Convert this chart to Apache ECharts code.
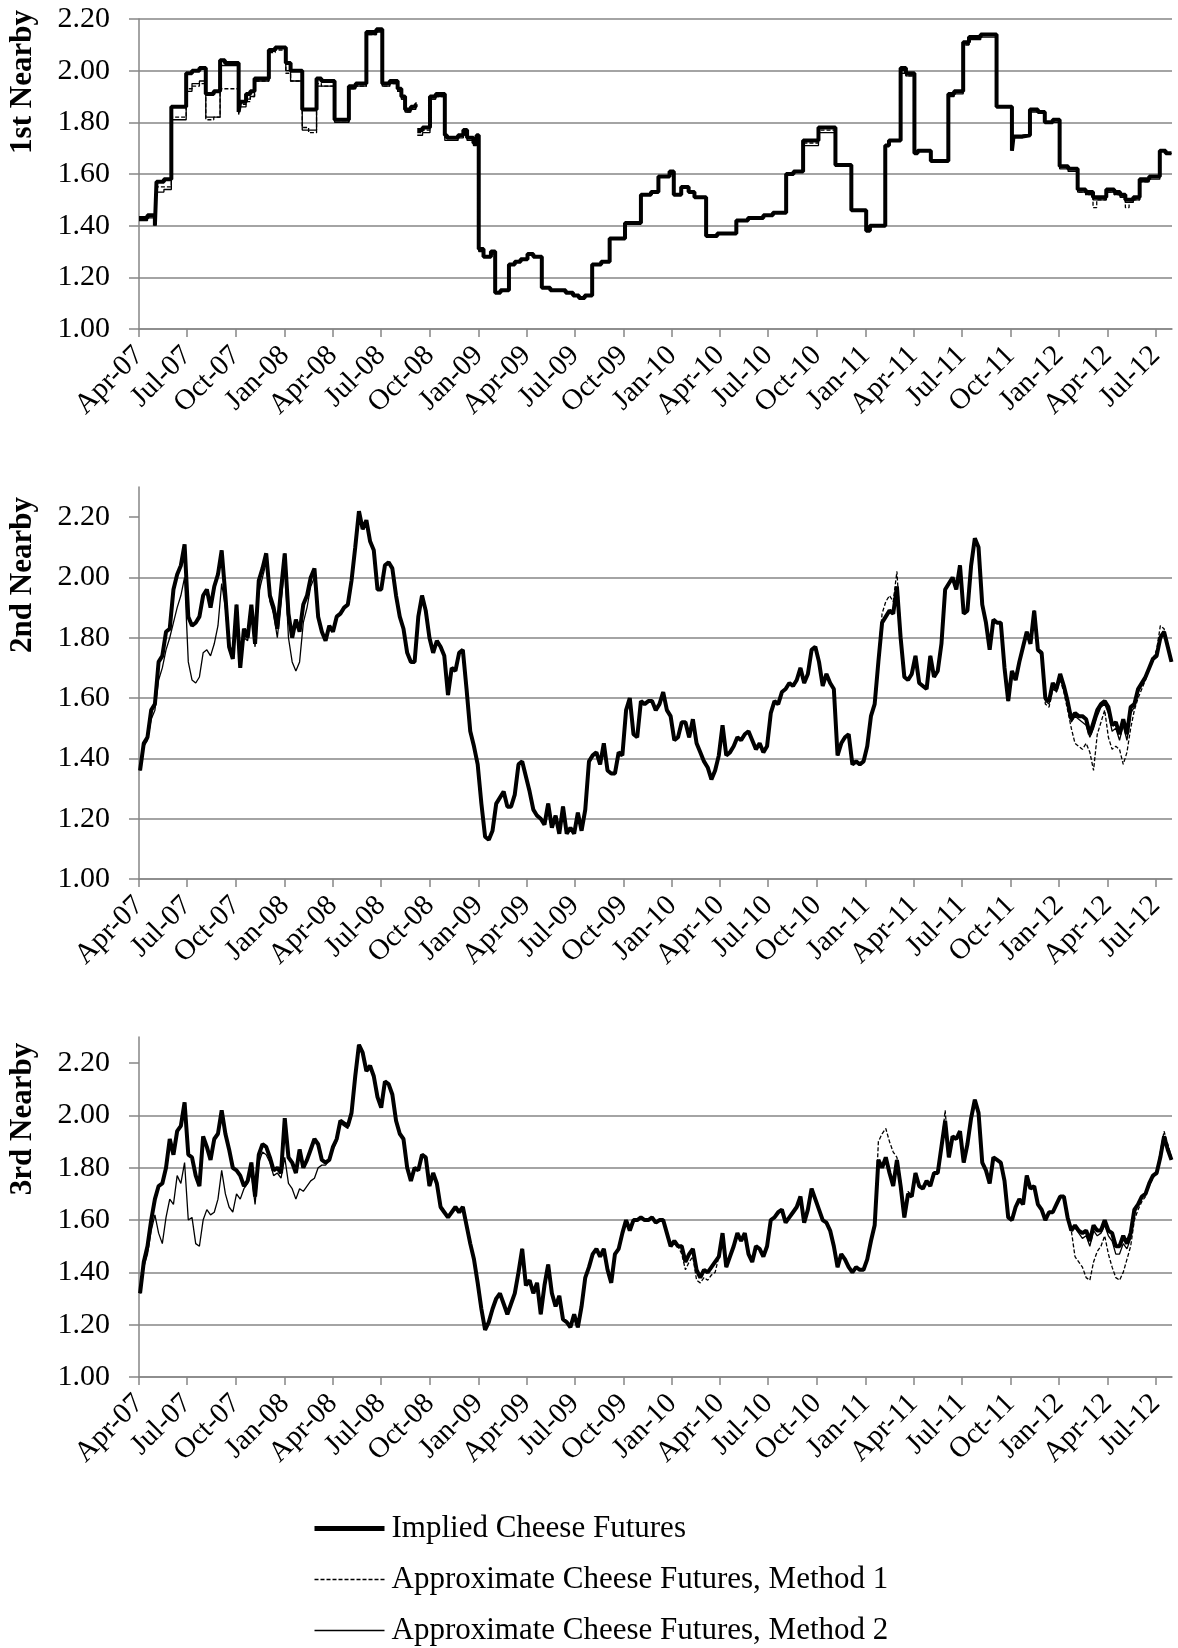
<!DOCTYPE html>
<html><head><meta charset="utf-8">
<script src="https://cdn.jsdelivr.net/npm/echarts/dist/echarts.min.js"></script>
<style>html,body{margin:0;padding:0;background:#fff}#c{width:1178px;height:1648px}</style>
</head><body><div id="c"></div>
<script>
const seriesNames = ['Implied Cheese Futures','Approximate Cheese Futures, Method 1','Approximate Cheese Futures, Method 2'];
const panelTitles = ['1st Nearby','2nd Nearby','3rd Nearby'];
const tickDates = ['2007-04-01','2007-07-01','2007-10-01','2008-01-01','2008-04-01','2008-07-01','2008-10-01','2009-01-01','2009-04-01','2009-07-01','2009-10-01','2010-01-01','2010-04-01','2010-07-01','2010-10-01','2011-01-01','2011-04-01','2011-07-01','2011-10-01','2012-01-01','2012-04-01','2012-07-01'];
const tickLabels = ['Apr-07','Jul-07','Oct-07','Jan-08','Apr-08','Jul-08','Oct-08','Jan-09','Apr-09','Jul-09','Oct-09','Jan-10','Apr-10','Jul-10','Oct-10','Jan-11','Apr-11','Jul-11','Oct-11','Jan-12','Apr-12','Jul-12'];
const yTicks = [1.0,1.2,1.4,1.6,1.8,2.0,2.2];

// ---- Panel 1 (1st nearby): step changes ----
const p1Dates = ['2007-04-01','2007-04-17','2007-05-01','2007-05-04','2007-05-18','2007-06-01','2007-06-29','2007-07-10','2007-07-24','2007-08-05',
'2007-08-20','2007-09-01','2007-09-10','2007-10-06','2007-10-09','2007-10-20','2007-10-28','2007-11-05','2007-12-02','2007-12-14',
'2008-01-03','2008-01-12','2008-02-03','2008-02-15','2008-03-01','2008-03-10','2008-04-04','2008-05-01','2008-05-14','2008-06-03',
'2008-06-22','2008-07-03','2008-07-17','2008-08-01','2008-08-08','2008-08-15','2008-08-26','2008-09-04','2008-09-06','2008-09-07',
'2008-09-17','2008-10-01','2008-10-12','2008-10-29','2008-11-02','2008-11-23','2008-12-03','2008-12-10','2008-12-22','2008-12-28',
'2009-01-01','2009-01-10','2009-01-24','2009-02-01','2009-02-11','2009-02-27','2009-03-10','2009-03-21','2009-04-03','2009-04-14',
'2009-04-30','2009-05-16','2009-06-14','2009-06-28','2009-07-09','2009-07-20','2009-08-03','2009-08-20','2009-09-05','2009-10-04',
'2009-11-03','2009-11-22','2009-12-06','2009-12-27','2010-01-04','2010-01-18','2010-02-01','2010-02-12','2010-03-06','2010-03-27',
'2010-05-02','2010-05-24','2010-06-22','2010-07-10','2010-08-04','2010-08-18','2010-09-05','2010-10-04','2010-11-05','2010-12-05',
'2011-01-02','2011-01-09','2011-02-07','2011-02-14','2011-03-08','2011-03-18','2011-04-03','2011-04-09','2011-05-04','2011-06-06',
'2011-06-17','2011-07-04','2011-07-15','2011-08-06','2011-09-05','2011-10-04','2011-10-07','2011-10-24','2011-11-07','2011-11-22',
'2011-12-05','2011-12-20','2012-01-02','2012-01-18','2012-02-05','2012-02-20','2012-03-05','2012-03-12','2012-03-30','2012-04-14',
'2012-04-25','2012-05-05','2012-05-12','2012-05-20','2012-06-01','2012-06-19','2012-07-09','2012-07-20','2012-07-31'];
const p1Implied = [1.43,1.44,1.40,1.57,1.58,1.86,1.99,2.00,2.01,1.91,
1.92,2.04,2.03,1.84,1.88,1.91,1.92,1.97,2.08,2.09,
2.03,2.00,1.85,1.85,1.97,1.96,1.81,1.94,1.95,2.15,
2.16,1.95,1.96,1.93,1.90,1.85,1.86,1.87,null,1.77,
1.78,1.90,1.91,1.75,1.74,1.75,1.77,1.74,1.72,1.75,
1.31,1.28,1.30,1.14,1.15,1.25,1.26,1.27,1.29,1.28,
1.16,1.15,1.14,1.13,1.12,1.13,1.25,1.26,1.35,1.41,
1.52,1.53,1.59,1.61,1.52,1.55,1.53,1.51,1.36,1.37,
1.42,1.43,1.44,1.45,1.60,1.61,1.73,1.78,1.635,1.46,
1.38,1.40,1.71,1.73,2.01,1.99,1.68,1.69,1.65,1.91,
1.92,2.11,2.13,2.14,1.86,1.69,1.745,1.75,1.85,1.84,
1.80,1.81,1.63,1.62,1.54,1.53,1.51,1.51,1.54,1.53,
1.52,1.50,1.50,1.51,1.58,1.59,1.69,1.68,1.68];
const p1Method1 = [1.43,1.44,1.40,1.55,1.55,1.82,1.93,1.94,1.95,1.81,
1.82,1.93,1.93,1.84,1.87,1.88,1.90,1.96,2.07,2.08,
1.99,1.96,1.78,1.76,1.95,1.94,1.80,1.93,1.94,2.14,
2.15,1.94,1.95,1.92,1.89,1.84,1.85,1.86,null,1.76,
1.77,1.89,1.90,1.74,1.74,1.75,1.76,1.74,1.72,1.75,
1.31,1.28,1.30,1.14,1.15,1.25,1.26,1.27,1.29,1.28,
1.16,1.15,1.14,1.13,1.12,1.13,1.25,1.26,1.35,1.41,
1.52,1.53,1.59,1.60,1.52,1.55,1.53,1.51,1.36,1.37,
1.42,1.43,1.44,1.45,1.60,1.61,1.72,1.77,1.63,1.46,
1.38,1.40,1.71,1.73,2.00,1.98,1.68,1.69,1.65,1.91,
1.92,2.10,2.13,2.14,1.86,1.69,1.745,1.75,1.85,1.84,
1.80,1.81,1.63,1.62,1.53,1.52,1.47,1.50,1.53,1.52,
1.51,1.47,1.49,1.50,1.57,1.59,1.69,1.68,1.68];
const p1Method2 = [1.42,1.43,1.40,1.53,1.54,1.81,1.92,1.95,1.96,1.82,
1.82,2.02,2.02,1.83,1.86,1.89,1.90,1.96,2.08,2.09,
2.00,1.96,1.77,1.77,1.94,1.94,1.80,1.93,1.94,2.14,
2.15,1.94,1.95,1.92,1.89,1.84,1.85,1.86,null,1.75,
1.76,1.89,1.90,1.73,1.73,1.74,1.76,1.73,1.71,1.74,
1.30,1.28,1.29,1.14,1.15,1.25,1.26,1.27,1.29,1.28,
1.16,1.15,1.14,1.13,1.12,1.13,1.25,1.26,1.35,1.41,
1.52,1.53,1.59,1.60,1.52,1.55,1.53,1.51,1.36,1.37,
1.42,1.43,1.44,1.45,1.60,1.61,1.71,1.76,1.63,1.46,
1.38,1.40,1.71,1.73,1.99,1.98,1.68,1.69,1.65,1.90,
1.91,2.10,2.12,2.13,1.86,1.69,1.74,1.75,1.84,1.84,
1.80,1.80,1.62,1.61,1.53,1.52,1.50,1.50,1.53,1.52,
1.51,1.49,1.49,1.50,1.57,1.58,1.69,1.68,1.68];

// ---- Panels 2 and 3: weekly readings ----
const weeklyDates = ['2007-04-03','2007-04-10','2007-04-17','2007-04-24','2007-05-01','2007-05-08','2007-05-15','2007-05-22','2007-05-29','2007-06-05','2007-06-12','2007-06-19','2007-06-26','2007-07-03','2007-07-10','2007-07-17','2007-07-24','2007-07-31','2007-08-07','2007-08-14','2007-08-21','2007-08-28','2007-09-04','2007-09-11','2007-09-18','2007-09-25','2007-10-02','2007-10-09','2007-10-16','2007-10-23','2007-10-30','2007-11-06','2007-11-13','2007-11-20','2007-11-27','2007-12-04','2007-12-11','2007-12-18','2007-12-25',
'2008-01-01','2008-01-08','2008-01-15','2008-01-22','2008-01-29','2008-02-05','2008-02-12','2008-02-19','2008-02-26','2008-03-04','2008-03-11','2008-03-18','2008-03-25','2008-04-01','2008-04-08','2008-04-15','2008-04-22','2008-04-29','2008-05-06','2008-05-13','2008-05-20','2008-05-27','2008-06-03','2008-06-10','2008-06-17','2008-06-24','2008-07-01','2008-07-08','2008-07-15','2008-07-22','2008-07-29','2008-08-05','2008-08-12','2008-08-19','2008-08-26','2008-09-02','2008-09-09','2008-09-16','2008-09-23','2008-09-30','2008-10-07','2008-10-14','2008-10-21','2008-10-28','2008-11-04','2008-11-11','2008-11-18','2008-11-25','2008-12-02','2008-12-09','2008-12-16','2008-12-23','2008-12-30',
'2009-01-06','2009-01-13','2009-01-20','2009-01-27','2009-02-03','2009-02-10','2009-02-17','2009-02-24','2009-03-03','2009-03-10','2009-03-17','2009-03-24','2009-03-31','2009-04-07','2009-04-14','2009-04-21','2009-04-28','2009-05-05','2009-05-12','2009-05-19','2009-05-26','2009-06-02','2009-06-09','2009-06-16','2009-06-23','2009-06-30','2009-07-07','2009-07-14','2009-07-21','2009-07-28','2009-08-04','2009-08-11','2009-08-18','2009-08-25','2009-09-01','2009-09-08','2009-09-15','2009-09-22','2009-09-29','2009-10-06','2009-10-13','2009-10-20','2009-10-27','2009-11-03','2009-11-10','2009-11-17','2009-11-24','2009-12-01','2009-12-08','2009-12-15','2009-12-22','2009-12-29',
'2010-01-05','2010-01-12','2010-01-19','2010-01-26','2010-02-02','2010-02-09','2010-02-16','2010-02-23','2010-03-02','2010-03-09','2010-03-16','2010-03-23','2010-03-30','2010-04-06','2010-04-13','2010-04-20','2010-04-27','2010-05-04','2010-05-11','2010-05-18','2010-05-25','2010-06-01','2010-06-08','2010-06-15','2010-06-22','2010-06-29','2010-07-06','2010-07-13','2010-07-20','2010-07-27','2010-08-03','2010-08-10','2010-08-17','2010-08-24','2010-08-31','2010-09-07','2010-09-14','2010-09-21','2010-09-28','2010-10-05','2010-10-12','2010-10-19','2010-10-26','2010-11-02','2010-11-09','2010-11-16','2010-11-23','2010-11-30','2010-12-07','2010-12-14','2010-12-21','2010-12-28',
'2011-01-04','2011-01-11','2011-01-18','2011-01-25','2011-02-01','2011-02-08','2011-02-15','2011-02-22','2011-03-01','2011-03-08','2011-03-15','2011-03-22','2011-03-29','2011-04-05','2011-04-12','2011-04-19','2011-04-26','2011-05-03','2011-05-10','2011-05-17','2011-05-24','2011-05-31','2011-06-07','2011-06-14','2011-06-21','2011-06-28','2011-07-05','2011-07-12','2011-07-19','2011-07-26','2011-08-02','2011-08-09','2011-08-16','2011-08-23','2011-08-30','2011-09-06','2011-09-13','2011-09-20','2011-09-27','2011-10-04','2011-10-11','2011-10-18','2011-10-25','2011-11-01','2011-11-08','2011-11-15','2011-11-22','2011-11-29','2011-12-06','2011-12-13','2011-12-20','2011-12-27',
'2012-01-03','2012-01-10','2012-01-17','2012-01-24','2012-01-31','2012-02-07','2012-02-14','2012-02-21','2012-02-28','2012-03-06','2012-03-13','2012-03-20','2012-03-27','2012-04-03','2012-04-10','2012-04-17','2012-04-24','2012-05-01','2012-05-08','2012-05-15','2012-05-22','2012-05-29','2012-06-05','2012-06-12','2012-06-19','2012-06-26','2012-07-03','2012-07-10','2012-07-17','2012-07-24','2012-07-31'];

const p2Implied = [1.36,1.45,1.47,1.56,1.58,
1.72,1.74,1.82,1.83,1.96,2.01,2.04,2.11,1.87,
1.84,1.85,1.87,1.94,1.96,1.90,1.97,2.01,2.09,
1.94,1.77,1.73,1.91,1.70,1.83,1.80,1.91,
1.78,1.99,2.03,2.08,1.94,1.90,1.83,1.96,2.08,
1.88,1.80,1.86,1.82,1.91,1.94,2.00,2.03,1.87,
1.82,1.79,1.84,1.82,1.87,1.88,1.90,1.91,1.99,
2.10,2.22,2.16,2.19,2.12,2.09,1.96,1.96,2.04,
2.05,2.03,1.94,1.87,1.83,1.75,1.72,1.72,
1.87,1.94,1.89,1.80,1.75,1.79,1.77,1.74,1.61,
1.70,1.69,1.75,1.76,1.63,1.49,1.44,1.38,1.25,
1.14,1.13,1.16,1.25,1.27,1.29,1.24,1.24,1.28,
1.38,1.39,1.34,1.29,1.23,1.21,1.20,1.18,1.25,
1.17,1.21,1.15,1.24,1.15,1.17,1.15,1.22,1.16,
1.23,1.39,1.41,1.42,1.38,1.45,1.36,1.35,
1.35,1.42,1.41,1.56,1.60,1.48,1.47,1.59,1.58,
1.59,1.59,1.56,1.58,1.62,1.56,1.54,1.46,1.47,
1.52,1.52,1.47,1.53,1.45,1.42,1.39,1.37,1.33,
1.36,1.41,1.51,1.41,1.42,1.44,1.47,1.46,1.48,
1.49,1.46,1.43,1.45,1.42,1.44,1.55,1.59,
1.58,1.62,1.63,1.65,1.64,1.66,1.70,1.65,1.68,
1.76,1.77,1.72,1.64,1.68,1.65,1.63,1.41,1.45,
1.47,1.48,1.38,1.39,1.38,1.39,1.44,1.54,1.58,
1.72,1.85,1.87,1.89,1.88,1.97,1.80,1.67,1.66,
1.68,1.74,1.65,1.64,1.63,1.74,1.67,1.69,1.78,
1.96,1.98,2.00,1.96,2.04,1.88,1.89,2.04,
2.13,2.10,1.91,1.85,1.76,1.86,1.85,1.85,1.70,
1.59,1.69,1.66,1.72,1.77,1.82,1.78,1.89,1.76,
1.75,1.60,1.59,1.65,1.63,1.68,1.64,1.59,1.53,
1.55,1.54,1.54,1.53,1.48,1.52,1.56,1.58,1.59,
1.57,1.51,1.52,1.48,1.53,1.48,1.57,1.58,
1.63,1.65,1.67,1.70,1.73,1.74,1.80,1.82,1.77,1.72];
const p2Method1 = [1.36,1.45,1.47,1.56,1.58,
1.72,1.74,1.82,1.83,1.96,2.01,2.04,2.11,1.87,
1.84,1.85,1.87,1.94,1.96,1.90,1.97,2.01,2.09,
1.94,1.77,1.73,1.91,1.70,1.83,1.80,1.91,
1.78,1.99,2.03,2.08,1.94,1.90,1.83,1.96,2.08,
1.88,1.80,1.86,1.82,1.91,1.94,2.00,2.03,1.87,
1.82,1.79,1.84,1.82,1.87,1.88,1.90,1.91,1.99,
2.10,2.22,2.16,2.19,2.12,2.09,1.96,1.96,2.04,
2.05,2.03,1.94,1.87,1.83,1.75,1.72,1.72,
1.87,1.94,1.89,1.80,1.75,1.79,1.77,1.74,1.61,
1.70,1.69,1.75,1.76,1.63,1.49,1.44,1.38,1.25,
1.14,1.13,1.16,1.25,1.27,1.29,1.24,1.24,1.28,
1.38,1.39,1.34,1.29,1.23,1.21,1.20,1.18,1.25,
1.17,1.21,1.15,1.24,1.15,1.17,1.15,1.22,1.16,
1.23,1.39,1.41,1.42,1.38,1.45,1.36,1.35,
1.35,1.42,1.41,1.56,1.60,1.48,1.47,1.59,1.58,
1.59,1.59,1.56,1.58,1.62,1.56,1.54,1.46,1.47,
1.52,1.52,1.47,1.53,1.45,1.42,1.39,1.37,1.33,
1.36,1.41,1.51,1.41,1.42,1.44,1.47,1.46,1.48,
1.49,1.46,1.43,1.45,1.42,1.44,1.55,1.59,
1.58,1.62,1.63,1.65,1.64,1.66,1.70,1.65,1.68,
1.76,1.77,1.72,1.64,1.68,1.65,1.63,1.41,1.45,
1.47,1.48,1.38,1.39,1.38,1.39,1.44,1.54,1.58,
1.74,1.88,1.92,1.94,1.92,2.02,1.82,1.67,1.66,
1.68,1.74,1.65,1.64,1.63,1.74,1.67,1.69,1.78,
1.96,1.98,2.00,1.96,2.04,1.88,1.89,2.04,
2.13,2.10,1.91,1.85,1.76,1.86,1.85,1.85,1.70,
1.59,1.69,1.66,1.72,1.77,1.82,1.78,1.89,1.76,
1.74,1.58,1.57,1.63,1.62,1.66,1.62,1.56,1.50,
1.45,1.44,1.43,1.45,1.42,1.36,1.48,1.52,1.56,
1.47,1.43,1.44,1.43,1.38,1.42,1.50,1.56,
1.60,1.63,1.66,1.70,1.73,1.76,1.84,1.83,1.77,1.72];
const p2Method2 = [1.36,1.44,1.46,1.53,1.56,
1.66,1.70,1.76,1.80,1.85,1.90,1.94,2.00,1.72,
1.66,1.65,1.67,1.75,1.76,1.74,1.78,1.84,1.98,
1.90,1.76,1.73,1.85,1.71,1.80,1.79,1.88,
1.77,1.95,2.00,2.05,1.92,1.88,1.80,1.92,2.04,
1.80,1.72,1.69,1.72,1.85,1.90,1.97,2.00,1.86,
1.82,1.79,1.84,1.82,1.87,1.88,1.90,1.91,1.99,
2.10,2.22,2.16,2.19,2.12,2.09,1.96,1.96,2.04,
2.05,2.03,1.94,1.87,1.83,1.75,1.72,1.72,
1.87,1.94,1.89,1.80,1.75,1.79,1.77,1.74,1.61,
1.70,1.69,1.75,1.76,1.63,1.49,1.44,1.38,1.25,
1.14,1.13,1.16,1.25,1.27,1.29,1.24,1.24,1.28,
1.38,1.39,1.34,1.29,1.23,1.21,1.20,1.18,1.25,
1.17,1.21,1.15,1.24,1.15,1.17,1.15,1.22,1.16,
1.23,1.39,1.41,1.42,1.38,1.45,1.36,1.35,
1.35,1.42,1.41,1.56,1.60,1.48,1.47,1.59,1.58,
1.59,1.59,1.56,1.58,1.62,1.56,1.54,1.46,1.47,
1.52,1.52,1.47,1.53,1.45,1.42,1.39,1.37,1.33,
1.36,1.41,1.51,1.41,1.42,1.44,1.47,1.46,1.48,
1.49,1.46,1.43,1.45,1.42,1.44,1.55,1.59,
1.58,1.62,1.63,1.65,1.64,1.66,1.70,1.65,1.68,
1.76,1.77,1.72,1.64,1.68,1.65,1.63,1.41,1.45,
1.47,1.48,1.38,1.39,1.38,1.39,1.44,1.54,1.58,
1.72,1.85,1.87,1.89,1.88,1.97,1.80,1.67,1.66,
1.68,1.74,1.65,1.64,1.63,1.74,1.67,1.69,1.78,
1.96,1.98,2.00,1.96,2.04,1.88,1.89,2.04,
2.13,2.10,1.91,1.85,1.76,1.86,1.85,1.85,1.70,
1.59,1.69,1.66,1.72,1.77,1.82,1.78,1.89,1.76,
1.74,1.59,1.58,1.64,1.62,1.67,1.63,1.58,1.52,
1.54,1.53,1.52,1.51,1.47,1.50,1.54,1.57,1.58,
1.55,1.49,1.50,1.46,1.51,1.46,1.55,1.57,
1.62,1.64,1.66,1.70,1.73,1.75,1.81,1.82,1.77,1.72];

const p3Implied = [1.32,1.44,1.50,1.60,1.68,
1.73,1.74,1.80,1.91,1.85,1.94,1.96,2.05,1.85,
1.84,1.77,1.73,1.92,1.88,1.83,1.91,1.93,2.02,
1.93,1.87,1.80,1.79,1.77,1.73,1.75,1.82,
1.69,1.85,1.89,1.88,1.84,1.79,1.80,1.78,1.99,
1.84,1.82,1.78,1.87,1.80,1.83,1.87,1.91,1.89,
1.83,1.82,1.83,1.88,1.91,1.98,1.97,1.96,2.01,
2.15,2.27,2.24,2.17,2.19,2.15,2.07,2.03,2.13,
2.12,2.08,1.98,1.93,1.91,1.80,1.75,1.80,
1.79,1.85,1.84,1.73,1.78,1.74,1.65,1.63,1.61,
1.63,1.65,1.63,1.65,1.58,1.51,1.45,1.36,1.26,
1.18,1.21,1.26,1.30,1.32,1.28,1.24,1.28,1.32,
1.40,1.49,1.35,1.37,1.32,1.36,1.24,1.35,1.43,
1.32,1.27,1.31,1.22,1.21,1.19,1.24,1.19,1.27,
1.38,1.42,1.47,1.49,1.46,1.49,1.41,1.36,
1.47,1.49,1.55,1.60,1.56,1.60,1.60,1.61,1.60,
1.60,1.61,1.59,1.60,1.60,1.55,1.50,1.52,1.50,
1.50,1.44,1.47,1.49,1.41,1.38,1.41,1.40,1.42,
1.44,1.46,1.55,1.42,1.46,1.50,1.55,1.52,1.55,
1.47,1.44,1.50,1.49,1.46,1.50,1.60,1.61,
1.63,1.64,1.59,1.61,1.63,1.65,1.69,1.59,1.64,
1.72,1.68,1.64,1.60,1.59,1.56,1.50,1.42,1.47,
1.45,1.42,1.40,1.42,1.41,1.41,1.45,1.52,1.58,
1.83,1.80,1.84,1.78,1.73,1.83,1.73,1.61,1.70,
1.69,1.78,1.73,1.72,1.75,1.73,1.78,1.78,1.88,
1.98,1.84,1.92,1.91,1.94,1.82,1.89,1.99,
2.06,2.01,1.82,1.79,1.74,1.84,1.83,1.82,1.75,
1.61,1.60,1.65,1.68,1.66,1.77,1.72,1.73,1.66,
1.64,1.60,1.63,1.63,1.66,1.69,1.69,1.61,1.56,
1.58,1.56,1.55,1.56,1.52,1.58,1.56,1.56,1.60,
1.56,1.55,1.50,1.50,1.54,1.51,1.55,1.64,
1.66,1.69,1.70,1.74,1.77,1.78,1.84,1.92,1.87,1.83];
const p3Method1 = [1.32,1.44,1.50,1.60,1.68,
1.73,1.74,1.80,1.91,1.85,1.94,1.96,2.05,1.85,
1.84,1.77,1.73,1.92,1.88,1.83,1.91,1.93,2.02,
1.93,1.87,1.80,1.79,1.77,1.73,1.75,1.82,
1.69,1.85,1.89,1.88,1.84,1.79,1.80,1.78,1.99,
1.84,1.82,1.78,1.87,1.80,1.83,1.87,1.91,1.89,
1.83,1.82,1.83,1.88,1.91,1.98,1.97,1.96,2.01,
2.15,2.27,2.24,2.17,2.19,2.15,2.07,2.03,2.13,
2.12,2.08,1.98,1.93,1.91,1.80,1.75,1.80,
1.79,1.85,1.84,1.73,1.78,1.74,1.65,1.63,1.61,
1.63,1.65,1.63,1.65,1.58,1.51,1.45,1.36,1.26,
1.18,1.21,1.26,1.30,1.32,1.28,1.24,1.28,1.32,
1.40,1.49,1.35,1.37,1.32,1.36,1.24,1.35,1.43,
1.32,1.27,1.31,1.22,1.21,1.19,1.24,1.19,1.27,
1.38,1.42,1.47,1.49,1.46,1.49,1.41,1.36,
1.47,1.49,1.55,1.60,1.56,1.60,1.60,1.61,1.60,
1.60,1.61,1.59,1.60,1.60,1.55,1.50,1.52,1.50,
1.47,1.41,1.44,1.46,1.37,1.36,1.38,1.37,1.39,
1.40,1.46,1.55,1.42,1.46,1.50,1.55,1.52,1.55,
1.47,1.44,1.50,1.49,1.46,1.50,1.60,1.61,
1.63,1.64,1.59,1.61,1.63,1.65,1.69,1.59,1.64,
1.72,1.68,1.64,1.60,1.59,1.56,1.50,1.42,1.47,
1.45,1.42,1.40,1.42,1.41,1.41,1.45,1.52,1.58,
1.90,1.93,1.95,1.90,1.86,1.84,1.75,1.63,1.71,
1.69,1.78,1.73,1.72,1.75,1.73,1.78,1.78,1.88,
2.02,1.84,1.92,1.91,1.94,1.82,1.89,1.99,
2.06,2.01,1.82,1.79,1.74,1.84,1.83,1.82,1.75,
1.61,1.60,1.65,1.68,1.66,1.77,1.72,1.73,1.66,
1.64,1.60,1.63,1.63,1.66,1.69,1.69,1.61,1.56,
1.46,1.44,1.42,1.38,1.37,1.44,1.48,1.50,1.54,
1.47,1.42,1.38,1.37,1.40,1.45,1.50,1.60,
1.64,1.67,1.69,1.73,1.76,1.78,1.86,1.94,1.89,1.84];
const p3Method2 = [1.32,1.42,1.47,1.56,1.62,
1.55,1.51,1.61,1.68,1.66,1.77,1.74,1.82,1.60,
1.61,1.51,1.50,1.60,1.64,1.62,1.63,1.68,1.79,
1.70,1.65,1.63,1.70,1.68,1.72,1.74,1.78,
1.66,1.82,1.86,1.85,1.82,1.77,1.78,1.76,1.84,
1.74,1.72,1.68,1.72,1.71,1.73,1.75,1.76,1.80,
1.81,1.81,1.83,1.87,1.90,1.97,1.96,1.95,2.00,
2.15,2.27,2.24,2.17,2.19,2.15,2.07,2.03,2.13,
2.12,2.08,1.98,1.93,1.91,1.80,1.75,1.80,
1.79,1.85,1.84,1.73,1.78,1.74,1.65,1.63,1.61,
1.63,1.65,1.63,1.65,1.58,1.51,1.45,1.36,1.26,
1.18,1.21,1.26,1.30,1.32,1.28,1.24,1.28,1.32,
1.40,1.49,1.35,1.37,1.32,1.36,1.24,1.35,1.43,
1.32,1.27,1.31,1.22,1.21,1.19,1.24,1.19,1.27,
1.38,1.42,1.47,1.49,1.46,1.49,1.41,1.36,
1.47,1.49,1.55,1.60,1.56,1.60,1.60,1.61,1.60,
1.60,1.61,1.59,1.60,1.60,1.55,1.50,1.52,1.50,
1.50,1.44,1.47,1.49,1.41,1.38,1.41,1.40,1.42,
1.44,1.46,1.55,1.42,1.46,1.50,1.55,1.52,1.55,
1.47,1.44,1.50,1.49,1.46,1.50,1.60,1.61,
1.63,1.64,1.59,1.61,1.63,1.65,1.69,1.59,1.64,
1.72,1.68,1.64,1.60,1.59,1.56,1.50,1.42,1.47,
1.45,1.42,1.40,1.42,1.41,1.41,1.45,1.52,1.58,
1.83,1.80,1.84,1.78,1.73,1.83,1.73,1.61,1.70,
1.69,1.78,1.73,1.72,1.75,1.73,1.78,1.78,1.88,
1.98,1.84,1.92,1.91,1.94,1.82,1.89,1.99,
2.06,2.01,1.82,1.79,1.74,1.84,1.83,1.82,1.75,
1.61,1.60,1.65,1.68,1.66,1.77,1.72,1.73,1.66,
1.64,1.60,1.63,1.63,1.66,1.69,1.69,1.61,1.56,
1.57,1.55,1.53,1.54,1.50,1.56,1.54,1.55,1.58,
1.54,1.52,1.47,1.47,1.51,1.49,1.53,1.62,
1.66,1.69,1.70,1.74,1.77,1.78,1.84,1.92,1.87,1.83];

// ---------- build ----------
const ts = s => { const p = s.split('-'); return new Date(+p[0], +p[1] - 1, +p[2]).getTime(); };
const tickTimes = tickDates.map(ts);
const pairs = (dates, vals) => dates.map((d, i) => [ts(d), vals[i] == null ? '-' : vals[i]]);
const FONT = 'Liberation Serif';
const AX = '#868686';

const panels = [
  { dates: p1Dates, vals: [p1Implied, p1Method1, p1Method2], top: 19, height: 310, max: 2.2, step: 'end', titleY: 82 },
  { dates: weeklyDates, vals: [p2Implied, p2Method1, p2Method2], top: 487, height: 392, max: 2.3, step: false, titleY: 575 },
  { dates: weeklyDates, vals: [p3Implied, p3Method1, p3Method2], top: 1037, height: 340, max: 2.3, step: false, titleY: 1119 }
];
const styles = [
  { width: 4, type: 'solid' },
  { width: 1.3, type: [4, 2] },
  { width: 1.3, type: 'solid' }
];

const grid = [], xAxis = [], yAxis = [], series = [], graphic = [];
panels.forEach((p, i) => {
  grid.push({ left: 139, top: p.top, width: 1033, height: p.height, containLabel: false });
  xAxis.push({
    gridIndex: i, type: 'value', min: ts('2007-04-01'), max: ts('2012-08-01'), scale: true,
    axisLine: { show: true, onZero: false, lineStyle: { color: AX, width: 1.5 } },
    axisTick: { show: true, length: 8, customValues: tickTimes, lineStyle: { color: AX, width: 1.5 } },
    axisLabel: {
      customValues: tickTimes, rotate: 45, margin: 22, hideOverlap: false,
      fontFamily: FONT, fontSize: 29, color: '#000',
      formatter: v => { const k = tickTimes.findIndex(t => Math.abs(t - v) < 43200000); return k >= 0 ? tickLabels[k] : ''; }
    },
    splitLine: { show: false }
  });
  yAxis.push({
    gridIndex: i, type: 'value', min: 1, max: p.max, interval: 0.2,
    axisLine: { show: true, lineStyle: { color: AX, width: 1.5 } },
    axisTick: { show: true, length: 10, customValues: yTicks, lineStyle: { color: AX, width: 1.5 } },
    axisLabel: { customValues: yTicks, margin: 29, fontFamily: FONT, fontSize: 30, color: '#000', formatter: v => v.toFixed(2) },
    splitLine: { show: true, showMaxLine: i === 0, lineStyle: { color: AX, width: 1.5 } }
  });
  p.vals.forEach((vals, s) => {
    series.push({
      name: seriesNames[s], type: 'line', xAxisIndex: i, yAxisIndex: i,
      data: pairs(p.dates, vals), step: p.step, showSymbol: false, symbol: 'none',
      connectNulls: false, silent: true, animation: false,
      lineStyle: { color: '#000', width: styles[s].width, type: styles[s].type },
      itemStyle: { color: '#000' }, emphasis: { disabled: true }, z: 2 + s
    });
  });
  graphic.push({
    type: 'text', x: 23, y: p.titleY, rotation: Math.PI / 2,
    style: { text: panelTitles[i], fontFamily: FONT, fontSize: 31, fontWeight: 'bold', fill: '#000',
             align: 'center', verticalAlign: 'middle', textAlign: 'center', textVerticalAlign: 'middle' }
  });
});

const chart = echarts.init(document.getElementById('c'), null, { renderer: 'canvas', width: 1178, height: 1648 });
chart.setOption({
  backgroundColor: '#fff',
  animation: false,
  grid, xAxis, yAxis, series, graphic,
  legend: {
    orient: 'vertical', left: 312, top: 1513, height: 170, itemWidth: 70, itemHeight: 14, itemGap: 20,
    selectedMode: false, padding: 0,
    itemStyle: { opacity: 0, borderWidth: 0 },
    textStyle: { fontFamily: FONT, fontSize: 31, lineHeight: 31, color: '#000', padding: [0, 0, 0, 2] },
    data: [
      { name: seriesNames[0], itemStyle: { opacity: 0 }, lineStyle: { width: 5, color: '#000', type: 'solid', opacity: 1 } },
      { name: seriesNames[1], itemStyle: { opacity: 0 }, lineStyle: { width: 1.5, color: '#000', type: [4, 2], opacity: 1 } },
      { name: seriesNames[2], itemStyle: { opacity: 0 }, lineStyle: { width: 1.5, color: '#000', type: 'solid', opacity: 1 } }
    ]
  }
});
</script>
</body></html>
